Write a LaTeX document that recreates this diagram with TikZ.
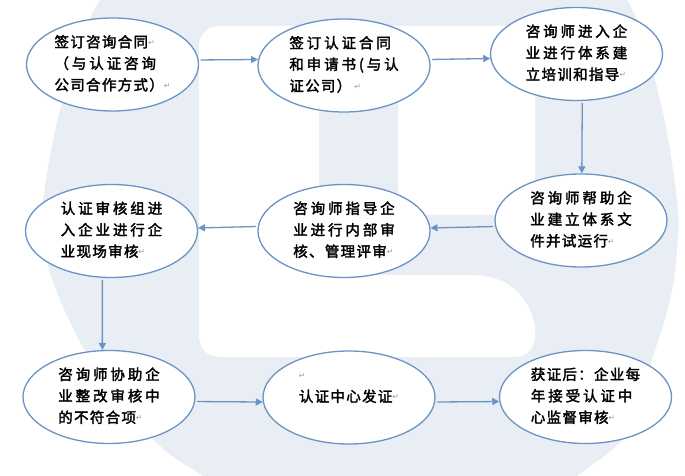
\documentclass[tikz,border=0pt]{standalone}
\usepackage{fontspec}
\usetikzlibrary{shapes.geometric,arrows.meta}
\newfontfamily\cjkA[LetterSpace=20,FakeBold=2.2]{Noto Sans CJK SC}
\newfontfamily\cjkB[LetterSpace=9,FakeBold=2.2]{Noto Sans CJK SC}
\newfontfamily\symf{DejaVu Sans}
\definecolor{wm}{HTML}{E9EEF5}
\definecolor{ln}{HTML}{6B93C4}
\definecolor{mk}{HTML}{A0A0A0}
\newcommand\pmk{\raisebox{2bp}{\symf\fontsize{8bp}{8bp}\selectfont\color{mk}↵}}
\newcommand\cjkfont{\cjkA\fontsize{14.5bp}{21.5bp}\selectfont}
\newcommand\lastl[1]{{\cjkB #1}}
\begin{document}
\begin{tikzpicture}[x=1bp,y=-1bp,
  stepnode/.style={ellipse, draw=ln, line width=1.3bp, fill=white,
    minimum width=172bp, minimum height=93bp, inner sep=0pt,
    font=\cjkfont, text=black},
  arr/.style={draw=ln, line width=1.3bp, -{Triangle[length=7bp,width=7bp]},
    shorten <=2bp}]
\useasboundingbox (0,0) rectangle (685,476);
% watermark background
\begin{scope}
\clip (0,0) rectangle (685,476);
\fill[wm] plot[smooth cycle, tension=0.6] coordinates {
  (100,0) (170,-60) (362,-110) (560,-60) (627,0) (660,100) (677,200)
  (677,250) (670,300) (652,360) (630,430) (577,476) (500,530) (390,550)
  (280,525) (203,476) (157,443) (100,375) (60,300) (43,240) (45,187) (63,100)};
\fill[white, rounded corners=20bp] (199,26) rectangle (535,357);
\fill[wm] (319,95) -- (398,95) -- (398,215) -- (536,215) -- (536,340)
  .. controls (536,300) and (510,275) .. (473,275) -- (319,275) -- cycle;
\end{scope}
% nodes
\node[stepnode] (n1) at (112.5,64.5) {\begin{tabular}{@{}l@{}}\lastl{签订咨询合同}\pmk\\（与认证咨询\\\lastl{公司合作方式）}\pmk\end{tabular}};
\node[stepnode] (n2) at (344,65.5) {\begin{tabular}{@{}l@{}}签订认证合同\\和申请书(与认\\\lastl{证公司）}\hspace{3bp}\pmk\end{tabular}};
\node[stepnode] (n3) at (576.5,54) {\begin{tabular}{@{}l@{}}咨询师进入企\\业进行体系建\\\lastl{立培训和指导}\pmk\end{tabular}};
\node[stepnode] (n4) at (111.5,231) {\begin{tabular}{@{}l@{}}认证审核组进\\入企业进行企\\\lastl{业现场审核}\pmk\end{tabular}};
\node[stepnode] (n5) at (344,231) {\begin{tabular}{@{}l@{}}咨询师指导企\\业进行内部审\\\lastl{核、管理评审}\pmk\end{tabular}};
\node[stepnode] (n6) at (581,220.5) {\begin{tabular}{@{}l@{}}咨询师帮助企\\业建立体系文\\\lastl{件并试运行}\pmk\end{tabular}};
\node[stepnode] (n7) at (109,397) {\begin{tabular}{@{}l@{}}咨询师协助企\\业整改审核中\\\lastl{的不符合项}\pmk\end{tabular}};
\node[stepnode] (n8) at (349,397.5) {\begin{tabular}{@{}l@{}}\pmk\\\lastl{认证中心发证}\pmk\\\mbox{}\end{tabular}};
\node[stepnode] (n9) at (585.5,397) {\begin{tabular}{@{}l@{}}\lastl{获证后：企业每}\\年接受认证中\\\lastl{心监督审核}\pmk\end{tabular}};
% connectors
\draw[arr] (n1.3) -- (n2.176.3);
\draw[arr] (n2.4.1) -- (n3.183.5);
\draw[arr] (n3.-83.3) -- (n6.89);
\draw[arr] (n6.184.3) -- (n5.2.7);
\draw[arr] (n5.177.3) -- (n4.2.7);
\draw[arr] (n4.-101.4) -- (n7.98.5);
\draw[arr] (n7.-3.3) -- (n8.183);
\draw[arr] (n8.-3) -- (n9.183.3);
\end{tikzpicture}
\end{document}
